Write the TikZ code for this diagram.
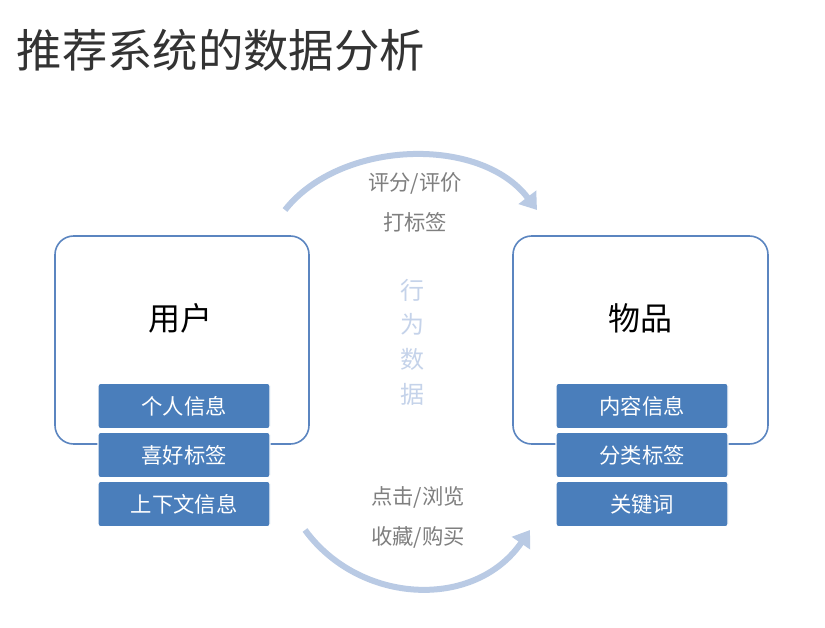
\documentclass[tikz,border=0pt]{standalone}
\usepackage{fontspec}
\newfontfamily\cjk{Noto Sans CJK SC}
\usetikzlibrary{arrows.meta}
\definecolor{bluebox}{HTML}{4A7EBB}
\definecolor{frame}{HTML}{5B85C0}
\definecolor{arc}{HTML}{B9CAE4}
\definecolor{vert}{HTML}{C5D3EA}
\definecolor{gr}{HTML}{7F7F7F}
\begin{document}
\begin{tikzpicture}[x=0.75pt,y=-0.75pt,
  bigbox/.style={draw=frame,line width=1.2pt,rounded corners=14pt},
  tag/.style={fill=bluebox,draw=white,line width=0.8pt,rounded corners=2pt,minimum width=129pt,minimum height=34pt,text=white,font=\cjk\fontsize{16}{16}\selectfont,inner sep=0pt},
  lab/.style={text=gr,font=\cjk\fontsize{16}{16}\selectfont},
  arcl/.style={draw=arc,line width=4.5pt,-{Triangle[length=12pt,width=16pt]}}]
\useasboundingbox (0,0) rectangle (825,628);
\fill[white] (0,0) rectangle (825,628);
\node[anchor=west,text=black!80,font=\cjk\fontsize{34}{34}\selectfont] (title) at (12,50) {推荐系统的数据分析};
\draw[bigbox] (55,236) rectangle (309,444);
\draw[bigbox] (513,236) rectangle (768,444);
\node[font=\cjk\fontsize{24}{24}\selectfont] (user) at (180,318) {用户};
\node[font=\cjk\fontsize{24}{24}\selectfont] (item) at (640,318) {物品};
\node[tag] (u1) at (184,406) {个人信息};
\node[tag] (u2) at (184,455) {喜好标签};
\node[tag] (u3) at (184,504) {上下文信息};
\node[tag] (i1) at (642,406) {内容信息};
\node[tag] (i2) at (642,455) {分类标签};
\node[tag] (i3) at (642,504) {关键词};
\node[text=vert,font=\cjk\fontsize{18}{26}\selectfont,align=center] (mid) at (412,342) {行\\为\\数\\据};
\coordinate (a1) at (285,210); \coordinate (a2) at (537,210);
\coordinate (b1) at (305,530); \coordinate (b2) at (530,530);
\draw[arcl] (a1) .. controls (340,140) and (480,135) .. (a2);
\draw[arcl] (b1) .. controls (360,605) and (475,610) .. (b2);
\node[lab] (t1) at (415,183) {评分/评价};
\node[lab] (t2) at (415,222) {打标签};
\node[lab] (t3) at (418,497) {点击/浏览};
\node[lab] (t4) at (418,537) {收藏/购买};
\end{tikzpicture}
\end{document}
